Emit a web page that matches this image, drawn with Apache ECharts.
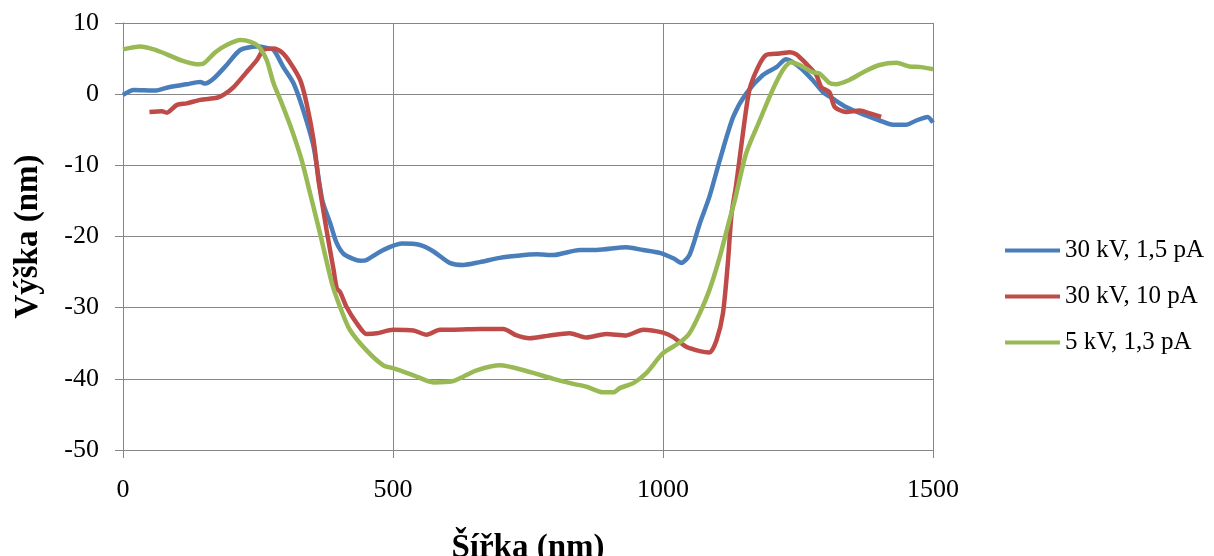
<!DOCTYPE html>
<html>
<head>
<meta charset="utf-8">
<title>Výška profil</title>
<script src="https://cdn.jsdelivr.net/npm/echarts@6/dist/echarts.min.js"></script>
<style>
  html, body { margin: 0; padding: 0; background: #fff; }
  #chart { width: 1214px; height: 556px; }
</style>
</head>
<body>
<div id="chart"></div>
<script>
// series names
const names = ['30 kV, 1,5 pA', '30 kV, 10 pA', '5 kV, 1,3 pA']

// 30 kV, 1,5 pA
const blueX = [0, 20, 60, 81, 118, 143, 152, 168, 192, 217, 248, 266, 279, 297, 316, 334, 353, 369, 384, 395, 408, 425, 439, 451, 482, 516, 550, 575, 605, 630, 661, 698, 730, 766, 797, 846, 877, 932, 963, 994, 1020, 1034, 1049, 1068, 1086, 1105, 1130, 1154, 1185, 1210, 1228, 1253, 1277, 1296, 1314, 1339, 1376, 1401, 1426, 1450, 1469, 1490, 1500]
const blueY = [-0.1, 0.6, 0.5, 0.9, 1.4, 1.7, 1.5, 2.2, 4.1, 6.2, 6.7, 6.5, 6.2, 3.8, 1.5, -2.3, -7.4, -14.9, -18.2, -20.8, -22.4, -23.1, -23.4, -23.3, -21.9, -21.0, -21.2, -22.1, -23.7, -24.0, -23.6, -23.0, -22.7, -22.5, -22.6, -21.9, -21.9, -21.5, -21.9, -22.3, -23.1, -23.7, -22.6, -18.2, -14.4, -9.3, -3.2, 0.1, 2.7, 3.8, 4.9, 3.8, 2.0, 0.3, -0.6, -1.8, -3.0, -3.7, -4.3, -4.3, -3.7, -3.2, -4.0]

// 30 kV, 10 pA
const redX = [49, 72, 81, 100, 118, 143, 174, 186, 205, 229, 248, 260, 279, 294, 309, 328, 340, 353, 362, 366, 377, 390, 396, 402, 414, 433, 451, 470, 500, 538, 562, 587, 612, 661, 704, 729, 753, 790, 827, 858, 895, 932, 963, 1000, 1018, 1043, 1068, 1086, 1099, 1111, 1120, 1127, 1135, 1148, 1160, 1176, 1191, 1216, 1235, 1247, 1265, 1284, 1293, 1308, 1318, 1339, 1364, 1383, 1404]
const redY = [-2.5, -2.4, -2.6, -1.5, -1.3, -0.8, -0.5, -0.1, 1.0, 3.1, 4.8, 6.2, 6.4, 5.9, 4.5, 2.0, -1.3, -6.5, -12.1, -14.0, -19.1, -24.7, -27.3, -27.8, -29.9, -32.2, -33.7, -33.6, -33.1, -33.2, -33.8, -33.1, -33.1, -33.0, -33.0, -33.9, -34.3, -33.9, -33.6, -34.2, -33.7, -33.9, -33.1, -33.5, -34.1, -35.5, -36.1, -36.3, -34.6, -30.8, -23.8, -16.8, -13.0, -5.5, 0.6, 3.8, 5.5, 5.7, 5.9, 5.6, 4.3, 2.7, 1.0, 0.3, -1.8, -2.5, -2.3, -2.7, -3.2]

// 5 kV, 1,3 pA
const greenX = [0, 32, 57, 81, 106, 137, 149, 171, 192, 217, 235, 251, 266, 279, 294, 313, 331, 345, 365, 387, 402, 420, 451, 482, 500, 538, 575, 612, 630, 655, 698, 747, 797, 834, 858, 889, 908, 920, 945, 969, 1000, 1031, 1049, 1068, 1086, 1105, 1123, 1133, 1154, 1179, 1203, 1222, 1237, 1253, 1277, 1290, 1308, 1320, 1345, 1376, 1401, 1432, 1456, 1478, 1500]
const greenY = [6.3, 6.7, 6.3, 5.6, 4.8, 4.2, 4.3, 5.9, 6.9, 7.6, 7.4, 6.7, 4.8, 1.5, -1.3, -5.1, -9.3, -13.5, -19.6, -26.6, -29.9, -33.1, -36.0, -38.1, -38.5, -39.5, -40.5, -40.3, -39.7, -38.8, -38.1, -38.9, -40.0, -40.7, -41.1, -41.9, -41.9, -41.3, -40.6, -39.2, -36.4, -34.9, -33.6, -30.8, -27.5, -22.9, -17.7, -14.9, -8.3, -3.7, 0.6, 3.4, 4.5, 4.1, 3.1, 2.9, 1.6, 1.4, 2.0, 3.3, 4.1, 4.4, 3.9, 3.8, 3.5]

const colors = ['#4A7EBB', '#BE4B48', '#98B954']
const gridColor = '#868686'
const font = '"Liberation Serif", "Times New Roman", serif'

const zip = (xs, ys) => xs.map((x, i) => [x, ys[i]])

const makeSeries = (name, data, color) => ({
  name,
  type: 'line',
  data,
  smooth: 0.25,
  showSymbol: false,
  symbol: 'none',
  lineStyle: { color, width: 4.5 },
  itemStyle: { color }
})

const chart = echarts.init(document.getElementById('chart'))
chart.setOption({
  animation: false,
  color: colors,
  grid: { left: 123, right: 281, top: 23, bottom: 106, containLabel: false, outerBoundsMode: 'none' },
  legend: {
    orient: 'vertical',
    left: 1000,
    top: 233,
    icon: 'rect',
    itemWidth: 55,
    itemHeight: 4,
    itemGap: 21,
    textStyle: { fontFamily: font, fontSize: 25, lineHeight: 25, color: '#000' },
    data: names
  },
  xAxis: {
    type: 'value',
    min: 0,
    max: 1500,
    interval: 500,
    name: 'Šířka (nm)',
    nameLocation: 'middle',
    nameGap: 82,
    nameTextStyle: { fontFamily: font, fontSize: 33, fontWeight: 'bold', color: '#000' },
    axisLine: { show: true, onZero: false, lineStyle: { color: gridColor, width: 1 } },
    axisTick: { show: true, length: 8, lineStyle: { color: gridColor } },
    axisLabel: { margin: 27, fontFamily: font, fontSize: 26, color: '#000', formatter: v => String(v) },
    splitLine: { show: true, lineStyle: { color: gridColor, width: 1 } }
  },
  yAxis: {
    type: 'value',
    min: -50,
    max: 10,
    interval: 10,
    name: 'Výška (nm)',
    nameLocation: 'middle',
    nameGap: 78,
    nameTextStyle: { fontFamily: font, fontSize: 33, fontWeight: 'bold', color: '#000' },
    axisLine: { show: true, onZero: false, lineStyle: { color: gridColor, width: 1 } },
    axisTick: { show: true, length: 8, lineStyle: { color: gridColor } },
    axisLabel: { margin: 24, fontFamily: font, fontSize: 26, color: '#000' },
    splitLine: { show: true, lineStyle: { color: gridColor, width: 1 } }
  },
  series: [
    makeSeries(names[0], zip(blueX, blueY), colors[0]),
    makeSeries(names[1], zip(redX, redY), colors[1]),
    makeSeries(names[2], zip(greenX, greenY), colors[2])
  ]
})

window.addEventListener('resize', () => chart.resize())
</script>
</body>
</html>
